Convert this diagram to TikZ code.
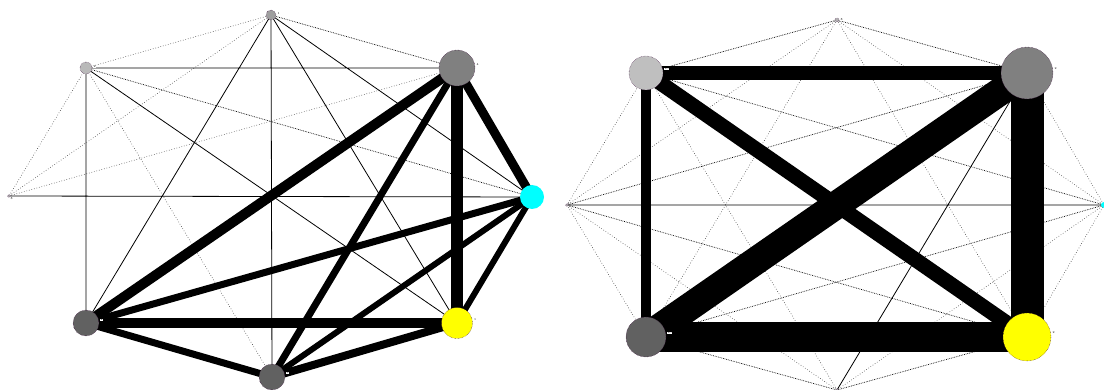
\documentclass[tikz,border=0pt]{standalone}
\definecolor{aqua}{RGB}{0,255,255}
\definecolor{yel}{RGB}{255,255,0}
\begin{document}
\begin{tikzpicture}[x=1pt,y=-1pt,
  vtx/.style={circle,inner sep=0pt,minimum size=#1,draw=violet!40!black,densely dotted,line width=0.4pt},
  lab/.style={font=\fontsize{3}{3}\selectfont,inner sep=0.3pt,fill=white},
  thin solid/.style={line width=0.8pt,black},
  dens/.style={line width=0.7pt,densely dotted,black},
  lite/.style={line width=0.6pt,dotted,black!75},
  heavy/.style={line width=#1,black}]
\useasboundingbox (0,0) rectangle (1104,390);
% ---------- left graph ----------
\coordinate (aT) at (271,15);
\coordinate (aUL) at (86,68);
\coordinate (aUR) at (457,68);
\coordinate (aL) at (9,196);
\coordinate (aR) at (532,197);
\coordinate (aLL) at (86,323);
\coordinate (aLR) at (457,323);
\coordinate (aB) at (272,377);
\draw[lite] (aT)--(aUL) (aT)--(aL) (aUL)--(aL) (aUL)--(aB) (aL)--(aUR);
\draw[dens] (aT)--(aUR) (aUL)--(aR);
\draw[thin solid] (aT)--(aR) (aT)--(aLL) (aT)--(aB) (aT)--(aLR) (aUL)--(aUR) (aUL)--(aLL) (aUL)--(aLR) (aL)--(aR);
\draw[heavy=10pt] (aUR)--(aLL);
\draw[heavy=7pt] (aUR)--(aB);
\draw[heavy=12pt] (aUR)--(aLR);
\draw[heavy=9pt] (aUR)--(aR);
\draw[heavy=7pt] (aR)--(aLL);
\draw[heavy=6pt] (aR)--(aB);
\draw[heavy=6pt] (aR)--(aLR);
\draw[heavy=10pt] (aLL)--(aLR);
\draw[heavy=7pt] (aLL)--(aB);
\draw[heavy=8pt] (aB)--(aLR);
\node[vtx=10pt,fill=gray!75] (nT) at (aT) {};
\node[vtx=12pt,fill=gray!55] (nUL) at (aUL) {};
\node[vtx=36pt,fill=gray] (nUR) at (aUR) {};
\node[vtx=3pt,fill=gray!60] (nL) at (aL) {};
\node[vtx=24pt,fill=aqua,draw=none] (nR) at (aR) {};
\node[vtx=26pt,fill=black!62] (nLL) at (aLL) {};
\node[vtx=31pt,fill=yel] (nLR) at (aLR) {};
\node[vtx=26pt,fill=black!62] (nB) at (aB) {};
\node[lab,anchor=west] (tT) at ([xshift=1pt,yshift=1pt]nT.east) {1};
\node[lab,anchor=west] (tUL) at ([xshift=1pt,yshift=1pt]nUL.east) {2};
\node[lab,anchor=west] (tUR) at ([xshift=1pt,yshift=4pt]nUR.east) {4};
\node[lab,anchor=north west] (tL) at (nL.south east) {8};
\node[lab,anchor=west] (tLL) at ([xshift=1pt,yshift=3pt]nLL.east) {2};
\node[lab,anchor=west] (tLR) at ([xshift=1pt,yshift=3pt]nLR.east) {1};
\node[lab,anchor=west] (tB) at ([xshift=1pt,yshift=4pt]nB.east) {3};
% ---------- right graph ----------
\coordinate (bT) at (837,20);
\coordinate (bUL) at (646,73);
\coordinate (bUR) at (1027,73);
\coordinate (bL) at (567,205);
\coordinate (bR) at (1104,205);
\coordinate (bLL) at (646,337);
\coordinate (bLR) at (1027,337);
\coordinate (bB) at (837,390);
\draw[dens] (bT)--(bUL) (bT)--(bUR) (bUL)--(bR) (bUR)--(bL) (bL)--(bLR) (bR)--(bLL) (bLL)--(bB) (bLR)--(bB);
\draw[lite] (bT)--(bL) (bT)--(bR) (bT)--(bLL) (bT)--(bLR) (bUL)--(bL) (bUL)--(bB) (bUR)--(bR) (bL)--(bLL) (bL)--(bB) (bR)--(bLR) (bR)--(bB);
\draw[thin solid] (bL)--(bR) (bUR)--(bB);
\draw[heavy=14pt] (bUL)--(bUR);
\draw[heavy=10pt] (bUL)--(bLL);
\draw[heavy=15pt] (bUL)--(bLR);
\draw[heavy=28pt] (bUR)--(bLL);
\draw[heavy=33pt] (bUR)--(bLR);
\draw[heavy=30pt] (bLL)--(bLR);
\node[vtx=4pt,fill=gray!60] (mT) at (bT) {};
\node[vtx=34pt,fill=gray!50] (mUL) at (bUL) {};
\node[vtx=52pt,fill=gray] (mUR) at (bUR) {};
\node[vtx=3pt,fill=gray!60] (mL) at (bL) {};
\node[vtx=6pt,fill=aqua,draw=none] (mR) at (bR) {};
\node[vtx=40pt,fill=black!62] (mLL) at (bLL) {};
\node[vtx=48pt,fill=yel] (mLR) at (bLR) {};
\node[vtx=3pt,fill=gray!60] (mB) at (bB) {};
\node[lab,anchor=west] (sT) at ([xshift=1pt]mT.east) {8};
\node[lab,anchor=west] (sUL) at ([xshift=1pt,yshift=4pt]mUL.east) {10};
\node[lab,anchor=west] (sUR) at ([xshift=1pt,yshift=4pt]mUR.east) {2};
\node[lab,anchor=west] (sLL) at ([xshift=1pt,yshift=4pt]mLL.east) {10};
\node[lab,anchor=west] (sLR) at ([xshift=1pt,yshift=4pt]mLR.east) {2};
\end{tikzpicture}
\end{document}
